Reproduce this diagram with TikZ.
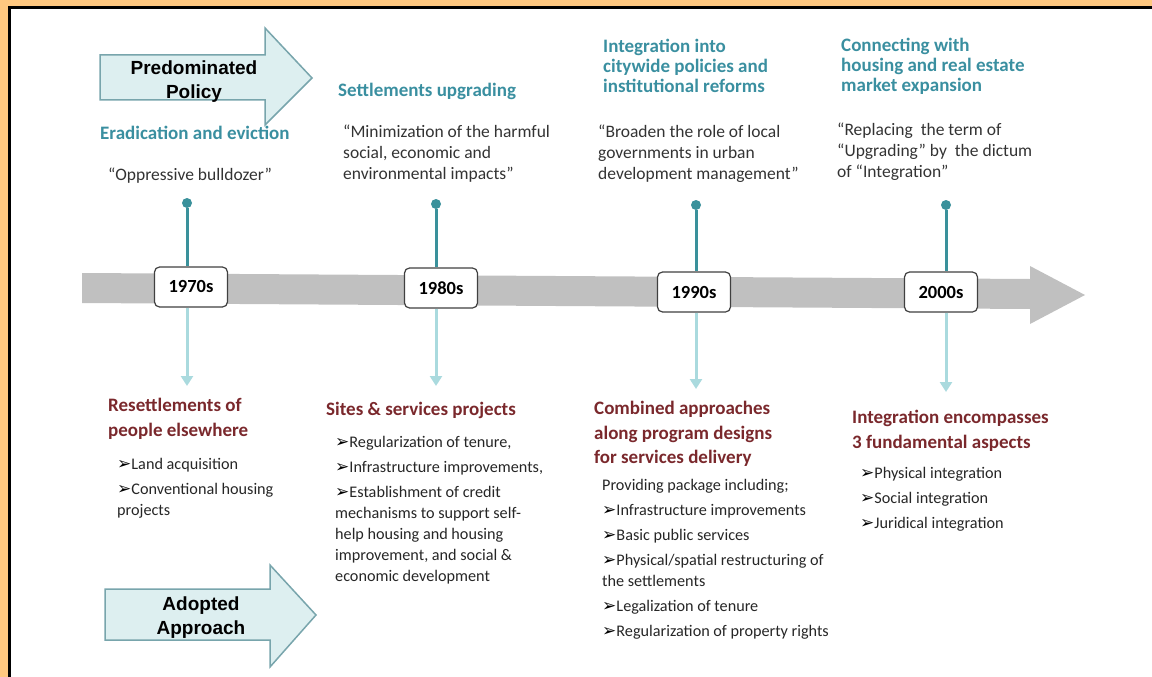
\documentclass[tikz,border=0pt]{standalone}
\usepackage{fontspec}
\setmainfont{Carlito}
\newfontfamily\bannerfont{Liberation Sans}
\newfontfamily\symfont{DejaVu Sans}
\usetikzlibrary{positioning,arrows.meta,calc}
\definecolor{tealhead}{RGB}{58,143,160}
\definecolor{darkred}{RGB}{122,40,44}
\definecolor{pinteal}{RGB}{58,145,155}
\definecolor{pinlight}{RGB}{170,218,222}
\definecolor{frameorange}{RGB}{255,200,128}
\definecolor{bannerfill}{RGB}{221,239,240}
\definecolor{banneredge}{RGB}{120,165,172}
\definecolor{bandgray}{RGB}{192,192,192}
\newcommand{\arrbul}{{\symfont\fontsize{17}{17}\selectfont\color{black}➢}}

\begin{document}
\begin{tikzpicture}[
			x=1pt, y=-1pt,
			every node/.style={inner sep=0pt},
			policy/.style={font=\bfseries\fontsize{19}{20}\selectfont, text=tealhead, align=left, anchor=north west},
			quote/.style={font=\fontsize{17.5}{21}\selectfont, text=black!80, align=left, anchor=north west},
			approach/.style={font=\bfseries\fontsize{19}{24.5}\selectfont, text=darkred, align=left, anchor=north west},
			items/.style={font=\fontsize{16.2}{21}\selectfont, text=black!85, align=left, anchor=north west},
			year/.style={draw=black!75, fill=white, rounded corners=5pt, line width=1.2pt, minimum width=73pt, minimum height=40pt, font=\bfseries\fontsize{18.5}{18.5}\selectfont},
			pin/.style={circle, fill=pinteal, minimum size=10pt},
			stem/.style={draw=pinteal, line width=3pt},
			drop/.style={draw=pinlight, line width=3pt, -{Triangle[width=12pt, length=10pt]}},
			banner/.style={draw=banneredge, fill=bannerfill, line width=1.5pt},
			bannertext/.style={font=\bannerfont\bfseries\fontsize{19}{24}\selectfont, align=center}
			]
			
			\useasboundingbox (0,0) rectangle (1152,677);
			
			\fill [frameorange] (0,0) rectangle (1152,7);
			\fill [frameorange] (0,0) rectangle (8,677);
			\draw [line width=3pt] (9.5,677) -- (9.5,8) -- (1152,8);
			
			\draw [banner] (100,55) -- (265,55) -- (265,28) -- (312,78) -- (265,125) -- (265,100) -- (100,100) -- cycle;
			\node (pol) at (194,82) [bannertext] {Predominated\\Policy};
			\draw [banner] (105,589) -- (270,589) -- (270,565) -- (316,615) -- (270,667) -- (270,640) -- (105,640) -- cycle;
			\node (app) at (201,618) [bannertext] {Adopted\\Approach};
			
			\fill [bandgray] (82,273) -- (1030,279) -- (1030,266) -- (1085,295) -- (1030,324) -- (1030,309) -- (82,303) -- cycle;
			
			\node (y70) at (191,287) [year] {1970s};
			\node (y80) at (441,288) [year] {1980s};
			\node (y90) at (694,292) [year] {1990s};
			\node (y00) at (941,292) [year] {2000s};
			
			\node (p70) at (187,203) [pin] {};
			\node (p80) at (436,204) [pin] {};
			\node (p90) at (696,205) [pin] {};
			\node (p00) at (946,205) [pin] {};
			
			\coordinate (e70) at (187,386);
			\coordinate (e80) at (436,386);
			\coordinate (e90) at (696,389);
			\coordinate (e00) at (946,392);
			
			\draw [stem] (p70) -- (p70 |- y70.north);
			\draw [stem] (p80) -- (p80 |- y80.north);
			\draw [stem] (p90) -- (p90 |- y90.north);
			\draw [stem] (p00) -- (p00 |- y00.north);
			
			\draw [drop] (y70.south -| e70) -- (e70);
			\draw [drop] (y80.south -| e80) -- (e80);
			\draw [drop] (y90.south -| e90) -- (e90);
			\draw [drop] (y00.south -| e00) -- (e00);
			
			\node (h70) at (100,126) [policy] {Eradication and eviction};
			\node (q70) at (108,168) [quote] {“Oppressive bulldozer”};
			
			\node (h80) at (338,83) [policy] {Settlements upgrading};
			\node (q80) at (343,125) [quote] {“Minimization of the harmful\\social, economic and\\environmental impacts”};
			
			\node (h90) at (603,39) [policy] {Integration into\\citywide policies and\\institutional reforms};
			\node (q90) at (598,125) [quote] {“Broaden the role of local\\governments in urban\\development management”};
			
			\node (h00) at (841,38) [policy] {Connecting with\\housing and real estate\\market expansion};
			\node (q00) at (837,123) [quote] {“Replacing~ the term of\\“Upgrading” by~ the dictum\\of “Integration”};
			
			\node (a70) at (108,398) [approach] {Resettlements of\\people elsewhere};
			\node (l70) at (117,458) [items] {\arrbul Land acquisition\\[4pt]\arrbul Conventional housing\\projects};
			
			\node (a80) at (326,402) [approach] {Sites \& services projects};
			\node (l80) at (335,436) [items] {\arrbul Regularization of tenure,\\[4pt]\arrbul Infrastructure improvements,\\[4pt]\arrbul Establishment of credit\\mechanisms to support self-\\help housing and housing\\improvement, and social \&\\economic development};
			
			\node (a90) at (594,401) [approach] {Combined approaches\\along program designs\\for services delivery};
			\node (l90) at (602,479) [items] {Providing package including;\\[4pt]\arrbul Infrastructure improvements\\[4pt]\arrbul Basic public services\\[4pt]\arrbul Physical/spatial restructuring of\\the settlements\\[4pt]\arrbul Legalization of tenure\\[4pt]\arrbul Regularization of property rights};
			
			\node (a00) at (852,410) [approach] {Integration encompasses\\3 fundamental aspects};
			\node (l00) at (860,467) [items] {\arrbul Physical integration\\[4pt]\arrbul Social integration\\[4pt]\arrbul Juridical integration};
			\end{tikzpicture}
\end{document}
